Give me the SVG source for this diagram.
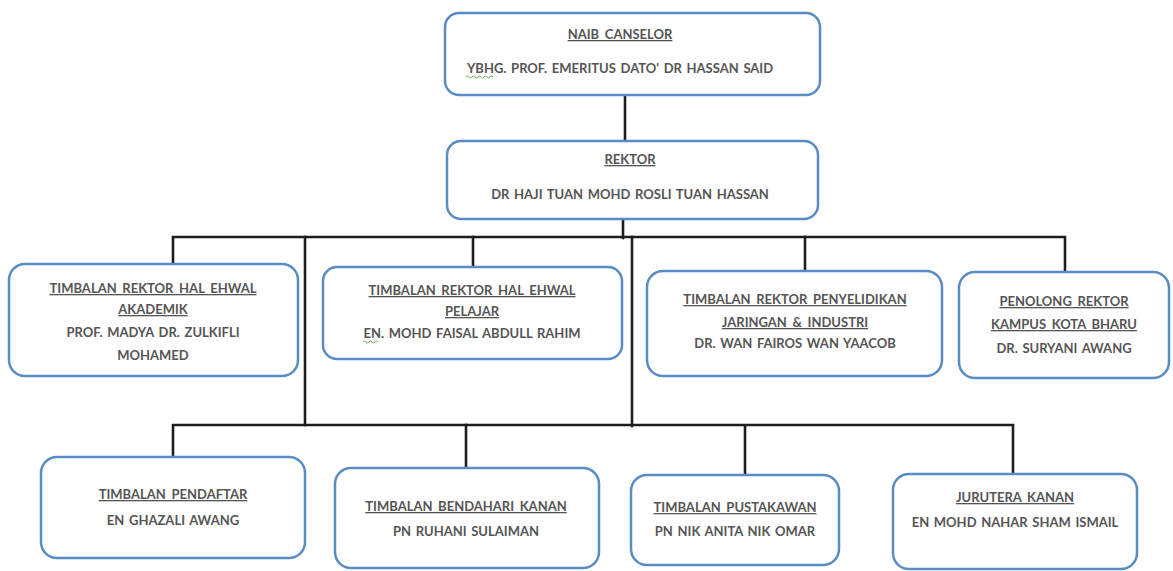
<svg xmlns="http://www.w3.org/2000/svg" width="1173" height="571" viewBox="0 0 1173 571">
<style>
.box{fill:#ffffff;stroke:#5a8cc4;stroke-width:2.5}
.ln{fill:none;stroke:#1e1e1e;stroke-width:2.6;stroke-linecap:square}
text{font-family:Lato,"Open Sans","Liberation Sans",sans-serif;font-size:13px;font-weight:bold;fill:#555;text-anchor:middle;word-spacing:1.5px}
.t{text-decoration:underline;word-spacing:2.5px}
.sq{fill:none;stroke:#6aa84f;stroke-width:1}
</style>
<rect width="1173" height="571" fill="#ffffff"/>
<g id="connectors">
<path class="ln" d="M625 96 V141"/>
<path class="ln" d="M623 219 V238"/>
<path class="ln" d="M173 264 V237 H1065 V272"/>
<path class="ln" d="M473 237 V267"/>
<path class="ln" d="M805 237 V271"/>
<path class="ln" d="M305 237 V425"/>
<path class="ln" d="M632 237 V426"/>
<path class="ln" d="M173 457 V425 H1013 V474"/>
<path class="ln" d="M466 425 V468"/>
<path class="ln" d="M745 426 V475"/>
</g>
<g id="naib-canselor">
<rect class="box" x="445" y="13" width="375" height="82" rx="14"/>
<text class="t" x="620" y="39">NAIB CANSELOR</text>
<text x="620" y="73">YBHG. PROF. EMERITUS DATO' DR HASSAN SAID</text>
<path class="sq" d="M466 77 q1.5 -2 3 0 t3 0 t3 0 t3 0 t3 0 t3 0 t3 0 t3 0 t3 0"/>
</g>
<g id="rektor">
<rect class="box" x="447" y="141" width="371" height="78" rx="14"/>
<text class="t" x="630" y="164">REKTOR</text>
<text x="630" y="199">DR HAJI TUAN MOHD ROSLI TUAN HASSAN</text>
</g>
<g id="tr-akademik">
<rect class="box" x="9" y="264" width="289" height="112" rx="16"/>
<text class="t" x="153" y="293">TIMBALAN  REKTOR  HAL EHWAL</text>
<text class="t" x="153" y="314">AKADEMIK</text>
<text x="153" y="337">PROF. MADYA DR. ZULKIFLI</text>
<text x="153" y="360">MOHAMED</text>
</g>
<g id="tr-pelajar">
<rect class="box" x="323" y="267" width="299" height="92" rx="14"/>
<text class="t" x="472" y="295">TIMBALAN  REKTOR  HAL EHWAL</text>
<text class="t" x="472" y="316">PELAJAR</text>
<text x="472" y="338">EN. MOHD FAISAL ABDULL RAHIM</text>
<path class="sq" d="M363 342 q1.5 -2 3 0 t3 0 t3 0 t3 0 t3 0"/>
</g>
<g id="tr-penyelidikan">
<rect class="box" x="647" y="271" width="295" height="105" rx="16"/>
<text class="t" x="795" y="304">TIMBALAN  REKTOR  PENYELIDIKAN</text>
<text class="t" x="795" y="327">JARINGAN &amp; INDUSTRI</text>
<text x="795" y="348">DR. WAN FAIROS WAN YAACOB</text>
</g>
<g id="penolong-rektor">
<rect class="box" x="959" y="272" width="210" height="106" rx="16"/>
<text class="t" x="1064" y="306">PENOLONG  REKTOR</text>
<text class="t" x="1064" y="329">KAMPUS KOTA BHARU</text>
<text x="1064" y="353">DR. SURYANI AWANG</text>
</g>
<g id="timbalan-pendaftar">
<rect class="box" x="41" y="457" width="264" height="101" rx="16"/>
<text class="t" x="173" y="499">TIMBALAN  PENDAFTAR</text>
<text x="173" y="525">EN GHAZALI AWANG</text>
</g>
<g id="timbalan-bendahari">
<rect class="box" x="335" y="468" width="264" height="100" rx="16"/>
<text class="t" x="466" y="511">TIMBALAN  BENDAHARI  KANAN</text>
<text x="466" y="536">PN RUHANI SULAIMAN</text>
</g>
<g id="timbalan-pustakawan">
<rect class="box" x="631" y="475" width="208" height="90" rx="16"/>
<text class="t" x="735" y="512">TIMBALAN  PUSTAKAWAN</text>
<text x="735" y="536">PN NIK ANITA NIK OMAR</text>
</g>
<g id="jurutera-kanan">
<rect class="box" x="893" y="474" width="244" height="95" rx="16"/>
<text class="t" x="1015" y="502">JURUTERA  KANAN</text>
<text x="1015" y="527">EN MOHD NAHAR SHAM ISMAIL</text>
</g>
</svg>
